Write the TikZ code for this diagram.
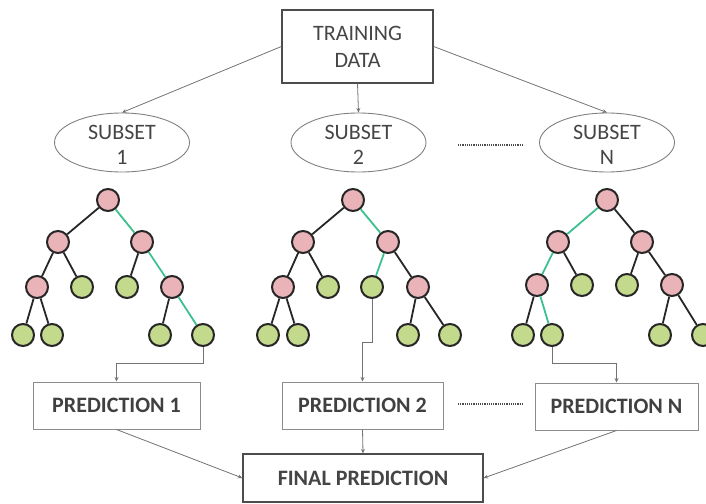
\documentclass[tikz,border=0pt]{standalone}
\usepackage{fontspec}
\setmainfont{Carlito}
\usetikzlibrary{shapes.geometric,arrows.meta}
\definecolor{pinkc}{HTML}{E9B3B8}
\definecolor{greenc}{HTML}{C3D98C}
\definecolor{tealg}{HTML}{3CC08E}
\definecolor{txtc}{HTML}{454545}
\tikzset{
  pnode/.style={circle, draw=black!85, line width=2pt, fill=pinkc, minimum size=22pt, inner sep=0pt},
  gnode/.style={circle, draw=black!85, line width=2pt, fill=greenc, minimum size=22pt, inner sep=0pt},
  tedge/.style={line width=1.8pt, draw=black!85},
  gedge/.style={line width=1.8pt, draw=tealg},
  conn/.style={draw=black!55, line width=0.8pt, -{Stealth[length=4.5pt,width=4pt]}},
  bigbox/.style={draw=black!70, line width=1.3pt, rectangle, inner sep=0pt, font=\fontsize{22}{27}\selectfont, text=txtc, align=center},
  predbox/.style={draw=black!45, line width=1pt, rectangle, inner sep=0pt, minimum height=47pt, font=\fontsize{22}{25}\selectfont\bfseries, text=black!75},
  subell/.style={ellipse, draw=black!50, line width=0.9pt, minimum width=135pt, minimum height=59pt, inner sep=0pt},
  subtxt/.style={font=\fontsize{22}{25}\selectfont, text=txtc, align=center, inner sep=0pt},
  dotsline/.style={draw=black!70, line width=2pt, dash pattern=on 1.2pt off 1pt}
}
\begin{document}
\begin{tikzpicture}[x=1pt,y=-1pt]
\useasboundingbox (0,0) rectangle (706,503);
\clip (0,0) rectangle (706,503);

% top
\node[bigbox, minimum width=151pt, minimum height=73pt] (train) at (357.5,46.5) {TRAINING\\DATA};
\node[subell] (s1) at (122,142.5) {};
\node[subell] (s2) at (358.5,142.5) {};
\node[subell] (sN) at (607,142.5) {};
\node[subtxt] (s1t) at (122,145) {SUBSET\\1};
\node[subtxt] (s2t) at (358.5,145) {SUBSET\\2};
\node[subtxt] (sNt) at (607,145) {SUBSET\\N};
\draw[conn] (train.west) -- (s1.north);
\draw[conn] (train.south) -- (s2.north);
\draw[conn] (train.east) -- (sN.north);
\coordinate (d1a) at (458,145);
\coordinate (d1b) at (523,145);
\draw[dotsline] (d1a) -- (d1b);

% tree 1
\node[pnode] (t1r) at (108,200) {};
\node[pnode] (t1a) at (58,242) {};
\node[pnode] (t1b) at (142,242) {};
\node[pnode] (t1c) at (37,287) {};
\node[gnode] (t1d) at (82,287) {};
\node[gnode] (t1e) at (127,287) {};
\node[pnode] (t1f) at (172,287) {};
\node[gnode] (t1g) at (23,335) {};
\node[gnode] (t1h) at (52,335) {};
\node[gnode] (t1i) at (160,335) {};
\node[gnode] (t1j) at (203,335) {};
\draw[tedge] (t1r) -- (t1a);
\draw[gedge] (t1r) -- (t1b);
\draw[tedge] (t1a) -- (t1c);
\draw[tedge] (t1a) -- (t1d);
\draw[tedge] (t1b) -- (t1e);
\draw[gedge] (t1b) -- (t1f);
\draw[tedge] (t1c) -- (t1g);
\draw[tedge] (t1c) -- (t1h);
\draw[tedge] (t1f) -- (t1i);
\draw[gedge] (t1f) -- (t1j);

% tree 2
\node[pnode] (t2r) at (353,200) {};
\node[pnode] (t2a) at (303,242) {};
\node[pnode] (t2b) at (388,242) {};
\node[pnode] (t2c) at (283,287) {};
\node[gnode] (t2d) at (328,287) {};
\node[gnode] (t2e) at (372,287) {};
\node[pnode] (t2f) at (418,287) {};
\node[gnode] (t2g) at (268,335) {};
\node[gnode] (t2h) at (298,335) {};
\node[gnode] (t2i) at (408,335) {};
\node[gnode] (t2j) at (450,335) {};
\draw[tedge] (t2r) -- (t2a);
\draw[gedge] (t2r) -- (t2b);
\draw[tedge] (t2a) -- (t2c);
\draw[tedge] (t2a) -- (t2d);
\draw[gedge] (t2b) -- (t2e);
\draw[tedge] (t2b) -- (t2f);
\draw[tedge] (t2c) -- (t2g);
\draw[tedge] (t2c) -- (t2h);
\draw[tedge] (t2f) -- (t2i);
\draw[tedge] (t2f) -- (t2j);

% tree 3
\node[pnode] (t3r) at (607,200) {};
\node[pnode] (t3a) at (558,242) {};
\node[pnode] (t3b) at (642,242) {};
\node[pnode] (t3c) at (537,285) {};
\node[gnode] (t3d) at (582,285) {};
\node[gnode] (t3e) at (627,285) {};
\node[pnode] (t3f) at (672,285) {};
\node[gnode] (t3g) at (523,335) {};
\node[gnode] (t3h) at (552,335) {};
\node[gnode] (t3i) at (660,335) {};
\node[gnode] (t3j) at (703,335) {};
\draw[gedge] (t3r) -- (t3a);
\draw[tedge] (t3r) -- (t3b);
\draw[gedge] (t3a) -- (t3c);
\draw[tedge] (t3a) -- (t3d);
\draw[tedge] (t3b) -- (t3e);
\draw[tedge] (t3b) -- (t3f);
\draw[tedge] (t3c) -- (t3g);
\draw[gedge] (t3c) -- (t3h);
\draw[tedge] (t3f) -- (t3i);
\draw[tedge] (t3f) -- (t3j);

% predictions
\node[predbox, minimum width=167pt] (p1) at (116.5,405.5) {PREDICTION 1};
\node[predbox, minimum width=161pt] (p2) at (362.5,405.5) {PREDICTION 2};
\node[predbox, minimum width=163pt] (pN) at (616.5,406.5) {PREDICTION N};
\node[bigbox, minimum width=240pt, minimum height=48pt, font=\fontsize{22}{25}\selectfont\bfseries] (fin) at (363,478) {FINAL PREDICTION};
\coordinate (d2a) at (458,404);
\coordinate (d2b) at (523,404);
\draw[dotsline] (d2a) -- (d2b);

\draw[conn] (t1j.south) -- ++(0,16) -| (p1.north);
\draw[conn] (t2e.south) -- ++(0,43) -| (p2.north);
\draw[conn] (t3h.south) -- ++(0,16) -| (pN.north);
\draw[conn] (p1.south) -- (fin.west);
\draw[conn] (p2.south) -- (fin.north);
\draw[conn] (pN.south) -- (fin.east);
\end{tikzpicture}
\end{document}
